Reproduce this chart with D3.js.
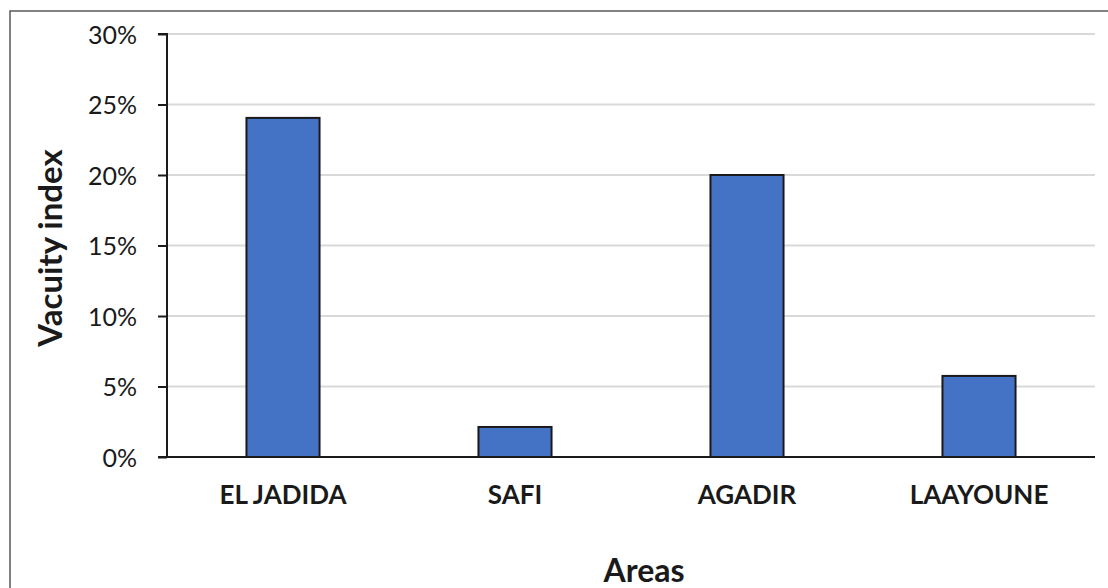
<!DOCTYPE html>
<html>
<head>
<meta charset="utf-8">
<script src="https://cdn.jsdelivr.net/npm/d3@7"></script>
<style>
  html, body { margin: 0; padding: 0; background: #fff; }
  svg { display: block; }
</style>
</head>
<body>
<svg id="chart" width="1108" height="588"></svg>
<script>
// Vacuity index by area
const areas = ["EL JADIDA", "SAFI", "AGADIR", "LAAYOUNE"];
const vacuity = [0.2405, 0.0213, 0.20, 0.0575];
const yTicks = [0, 0.05, 0.10, 0.15, 0.20, 0.25, 0.30];

const svg = d3.select("#chart");
const font = "Lato, 'Open Sans', sans-serif";
const ink = "#1a1a1a";

const plotLeft = 167, plotRight = 1095, plotTop = 34, plotBottom = 457;

const x = d3.scaleBand().domain(areas).range([plotLeft, plotRight]).paddingInner(0.685).paddingOuter(0.3425);
const y = d3.scaleLinear().domain([0, 0.30]).range([plotBottom, plotTop]);

// outer frame
svg.append("rect")
  .attr("x", 10).attr("y", 11).attr("width", 1110).attr("height", 600)
  .attr("fill", "none").attr("stroke", "#595959").attr("stroke-width", 1.5);

// gridlines
svg.append("g")
  .selectAll("line")
  .data(yTicks.filter(d => d > 0))
  .join("line")
  .attr("x1", plotLeft).attr("x2", plotRight)
  .attr("y1", d => y(d)).attr("y2", d => y(d))
  .attr("stroke", "#d9d9d9").attr("stroke-width", 2);

// bars
svg.append("g")
  .selectAll("rect")
  .data(areas)
  .join("rect")
  .attr("x", d => x(d))
  .attr("width", x.bandwidth())
  .attr("y", (d, i) => y(vacuity[i]))
  .attr("height", (d, i) => plotBottom - y(vacuity[i]))
  .attr("fill", "#4472C4")
  .attr("stroke", ink).attr("stroke-width", 2);

// y axis
const yAxis = d3.axisLeft(y).tickValues(yTicks).tickFormat(d3.format(".0%")).tickSize(9).tickPadding(21);
const gy = svg.append("g").attr("transform", `translate(${plotLeft},0)`).call(yAxis);
gy.select(".domain").attr("stroke", ink).attr("stroke-width", 2).attr("d", `M-9,${plotTop}H0V${plotBottom}`);
gy.selectAll(".tick line").attr("stroke", ink).attr("stroke-width", 2);
gy.selectAll(".tick text").attr("font-family", font).attr("font-size", 25).attr("fill", ink).attr("dy", "0.36em");

// x axis baseline
svg.append("line")
  .attr("x1", plotLeft - 9).attr("x2", plotRight)
  .attr("y1", plotBottom).attr("y2", plotBottom)
  .attr("stroke", ink).attr("stroke-width", 2);

// category labels
svg.append("g")
  .selectAll("text")
  .data(areas)
  .join("text")
  .attr("x", d => x(d) + x.bandwidth() / 2)
  .attr("y", 504)
  .attr("text-anchor", "middle")
  .attr("font-family", font).attr("font-weight", "bold").attr("font-size", 26)
  .attr("fill", ink)
  .text(d => d);

// axis titles
svg.append("text")
  .attr("x", 644).attr("y", 582)
  .attr("text-anchor", "middle")
  .attr("font-family", font).attr("font-weight", "bold").attr("font-size", 32)
  .attr("fill", ink)
  .text("Areas");

svg.append("text")
  .attr("transform", "translate(62,248) rotate(-90)")
  .attr("text-anchor", "middle")
  .attr("font-family", font).attr("font-weight", "bold").attr("font-size", 33)
  .attr("fill", ink)
  .text("Vacuity index");
</script>
</body>
</html>
